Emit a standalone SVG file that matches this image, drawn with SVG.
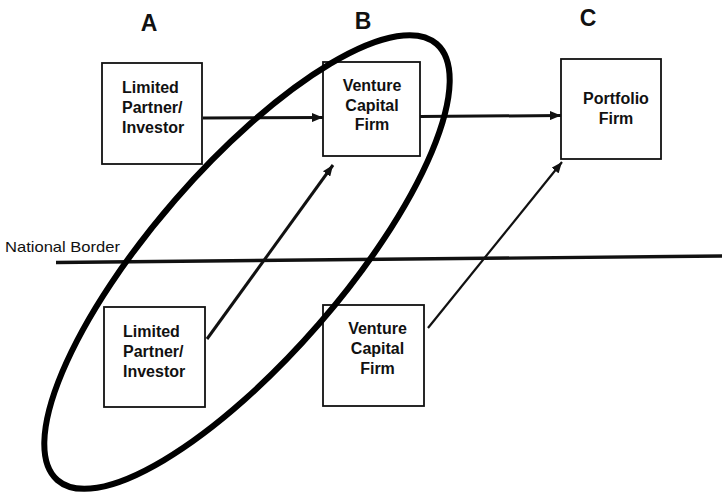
<svg xmlns="http://www.w3.org/2000/svg" width="722" height="494" viewBox="0 0 722 494">
  <style>
    .box { fill: #fff; stroke: #111; stroke-width: 1.8; }
    .lbl { font-family: "Liberation Sans", Arial, sans-serif; font-weight: bold; font-size: 16px; fill: #111; }
    .col { font-family: "Liberation Sans", Arial, sans-serif; font-weight: bold; font-size: 23px; fill: #111; text-anchor: middle; }
    .mid { text-anchor: middle; }
    .flow { stroke: #111; fill: none; }
  </style>
  <defs>
    <marker id="head" viewBox="0 0 11 9" refX="11" refY="4.5" markerWidth="11" markerHeight="9" markerUnits="userSpaceOnUse" orient="auto">
      <path d="M0,0 L11,4.5 L0,9 z" fill="#111"/>
    </marker>
  </defs>
  <rect width="722" height="494" fill="#fff"/>

  <!-- column headings -->
  <text class="col" x="149" y="31">A</text>
  <text class="col" x="363" y="29">B</text>
  <text class="col" x="588" y="26">C</text>

  <!-- national border -->
  <text x="5" y="252" font-family="Liberation Sans, Arial, sans-serif" font-size="15" fill="#111" textLength="115" lengthAdjust="spacingAndGlyphs">National Border</text>
  <line x1="56" y1="262.5" x2="722" y2="256" stroke="#111" stroke-width="3.4"/>

  <!-- nodes -->
  <g id="lp-home">
    <rect class="box" x="102" y="63" width="100" height="101"/>
    <text class="lbl" x="122" y="93">Limited</text>
    <text class="lbl" x="122" y="113">Partner/</text>
    <text class="lbl" x="122" y="133">Investor</text>
  </g>
  <g id="vc-home">
    <rect class="box" x="323" y="62" width="97" height="94"/>
    <text class="lbl mid" x="372" y="91">Venture</text>
    <text class="lbl mid" x="372" y="111">Capital</text>
    <text class="lbl mid" x="372" y="130">Firm</text>
  </g>
  <g id="portfolio">
    <rect class="box" x="561" y="59" width="100" height="100"/>
    <text class="lbl mid" x="616" y="104">Portfolio</text>
    <text class="lbl mid" x="616" y="124">Firm</text>
  </g>
  <g id="lp-foreign">
    <rect class="box" x="104" y="307" width="101" height="100"/>
    <text class="lbl" x="123" y="337">Limited</text>
    <text class="lbl" x="123" y="357">Partner/</text>
    <text class="lbl" x="123" y="377">Investor</text>
  </g>
  <g id="vc-foreign">
    <rect class="box" x="323" y="305" width="101" height="101"/>
    <text class="lbl mid" x="377.5" y="334">Venture</text>
    <text class="lbl mid" x="377.5" y="354">Capital</text>
    <text class="lbl mid" x="377.5" y="374">Firm</text>
  </g>

  <!-- connectors -->
  <g id="connectors">
    <line class="flow" x1="203" y1="118" x2="323" y2="117.5" stroke-width="3" marker-end="url(#head)"/>
    <line class="flow" x1="420" y1="116.5" x2="561" y2="115.5" stroke-width="3" marker-end="url(#head)"/>
    <line class="flow" x1="207" y1="339" x2="333" y2="165" stroke-width="3" marker-end="url(#head)"/>
    <line class="flow" x1="428" y1="328" x2="562" y2="162" stroke-width="2.2" marker-end="url(#head)"/>
  </g>

  <!-- grouping ellipse -->
  <ellipse cx="247" cy="262" rx="289" ry="95" transform="rotate(-49 247 262)" fill="none" stroke="#000" stroke-width="6"/>
</svg>
